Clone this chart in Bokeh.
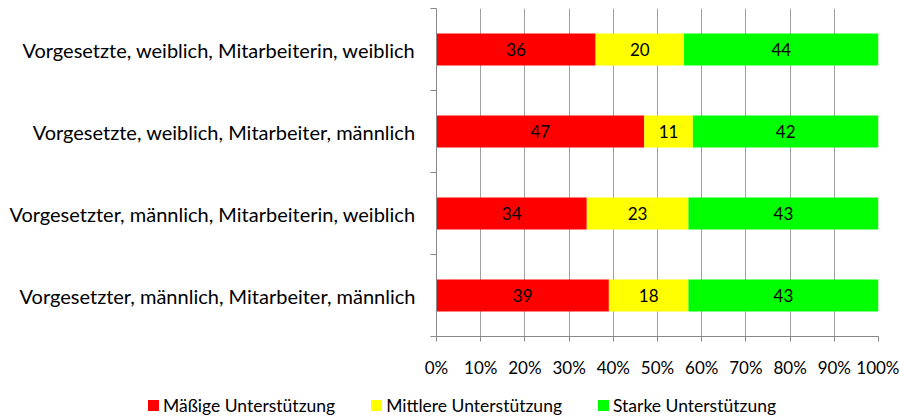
from bokeh.plotting import figure
from bokeh.layouts import column
from bokeh.models import ColumnDataSource, FixedTicker, PrintfTickFormatter, Div
from bokeh.core.properties import value
from bokeh.embed import file_html
from bokeh.resources import INLINE

categories = [
    "Vorgesetzte, weiblich, Mitarbeiterin, weiblich",
    "Vorgesetzte, weiblich, Mitarbeiter, männlich",
    "Vorgesetzter, männlich, Mitarbeiterin, weiblich",
    "Vorgesetzter, männlich, Mitarbeiter, männlich",
]
maessige = [36, 47, 34, 39]
mittlere = [20, 11, 23, 18]
starke = [44, 42, 43, 43]
series_names = ["Mäßige Unterstützung", "Mittlere Unterstützung", "Starke Unterstützung"]
colors = ["#ff0000", "#ffff00", "#00ff00"]
x_ticks = [0, 10, 20, 30, 40, 50, 60, 70, 80, 90, 100]

FONT = "Lato"
n = len(categories)
ypos = [n - 1 - i + 0.5 for i in range(n)]

p = figure(width=899, height=389, x_range=(0, 100), y_range=(0, n),
           output_backend="svg", toolbar_location=None,
           min_border_left=436, min_border_right=21, min_border_top=8, min_border_bottom=53)
p.outline_line_color = None

series = [maessige, mittlere, starke]
left = [0] * n
for vals, name, col in zip(series, series_names, colors):
    right = [l + v for l, v in zip(left, vals)]
    src = ColumnDataSource(dict(y=ypos, left=left, right=right, val=[str(v) for v in vals],
                                mid=[(l + r) / 2 for l, r in zip(left, right)]))
    p.hbar(y="y", left="left", right="right", height=0.39, source=src,
           fill_color=col, line_color=None)
    p.text(x="mid", y="y", text="val", source=src, text_align="center", text_baseline="middle",
           text_font=value(FONT), text_font_size="17px", text_color="black")
    left = right

# x axis
xa = p.xaxis[0]
xa.ticker = FixedTicker(ticks=x_ticks)
xa.formatter = PrintfTickFormatter(format="%d%%")
xa.axis_line_color = "#888888"
xa.major_tick_line_color = "#888888"
xa.major_tick_in = 0
xa.major_tick_out = 5
xa.minor_tick_line_color = None
xa.major_label_text_font = FONT
xa.major_label_text_font_size = "17px"
xa.major_label_text_color = "black"
xa.major_label_standoff = 15

# y axis
ya = p.yaxis[0]
ya.ticker = FixedTicker(ticks=ypos, minor_ticks=list(range(n + 1)))
ya.major_label_overrides = {y: c for y, c in zip(ypos, categories)}
ya.axis_line_color = "#888888"
ya.major_tick_line_color = None
ya.major_tick_in = 0
ya.major_tick_out = 0
ya.minor_tick_line_color = "#888888"
ya.minor_tick_in = 0
ya.minor_tick_out = 6
ya.major_label_text_font = FONT
ya.major_label_text_font_size = "20px"
ya.major_label_text_color = "black"
ya.major_label_standoff = 15

p.ygrid.grid_line_color = None
p.xgrid.ticker = FixedTicker(ticks=x_ticks)
p.xgrid.grid_line_color = "#a0a0a0"

# legend strip (HTML)
parts = []
for name, col in zip(series_names, colors):
    parts.append(
        f'<span style="display:inline-flex;align-items:center;margin-right:36px;">'
        f'<span style="display:inline-block;width:11px;height:11px;background:{col};margin-right:4px;"></span>'
        f'<span>{name}</span></span>'
    )
legend_html = (
    f'<div style="font-family:{FONT};font-size:17.5px;line-height:18px;color:black;'
    f'white-space:nowrap;padding-left:148px;padding-top:7px;">' + "".join(parts) + "</div>"
)
lp = Div(text=legend_html, width=899, height=30, margin=(0, 0, 0, 0))

layout = column(p, lp, spacing=0)
open("out.html", "w").write(file_html(layout, INLINE))
